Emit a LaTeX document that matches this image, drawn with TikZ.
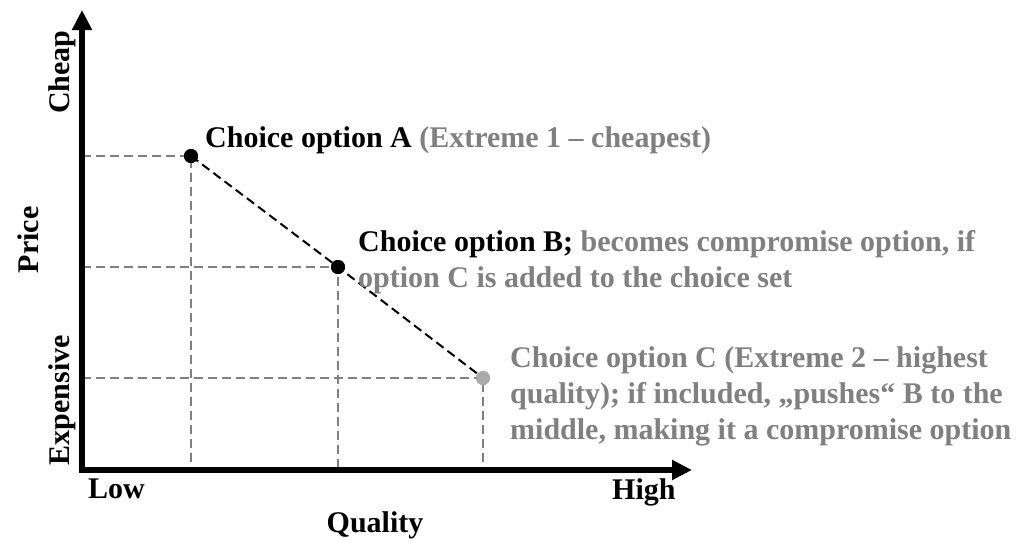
\documentclass[tikz,border=0pt]{standalone}
\usepackage{fontspec}
\setmainfont{Liberation Serif}
\usetikzlibrary{arrows.meta,calc,positioning}
\definecolor{txtgray}{RGB}{128,128,128}
\definecolor{ptgray}{RGB}{170,170,170}

\begin{document}
\begin{tikzpicture}[x=1pt,y=-1pt,
  font=\fontsize{30}{36}\selectfont\bfseries,
  axis/.style={line width=5.5pt,-{Triangle[length=20pt,width=19pt]}},
  guide/.style={draw=txtgray,line width=2pt,dash pattern=on 9pt off 5pt},
  trade/.style={draw=black,line width=2pt,dash pattern=on 9pt off 5pt},
  choice/.style={circle,fill,inner sep=0pt,minimum size=14pt},
  lbl/.style={anchor=base west,inner sep=0pt,align=left}]
  \useasboundingbox (0,0) rectangle (1022,541);
  \coordinate (o) at (82,470);
  \coordinate (ytop) at (82,10);
  \coordinate (xend) at (692,470);
  \node[choice]        (A) at (191,156) {};
  \node[choice]        (B) at (338,267) {};
  \node[choice,ptgray] (C) at (483,378) {};
  % projections onto the axes
  \foreach \p in {A,B,C}
    \draw[guide] (\p -| o) -- (\p.center) -- (\p |- o);
  \draw[trade] (A.center) -- (B.center) -- (C.center);
  \foreach \p in {A,B}
    \node[choice] at (\p) {};
  \node[choice,ptgray] at (C) {};
  % axes
  \draw[axis] ($(o)+(0,2.75)$) -- (ytop);
  \draw[axis] ($(o)+(-2.75,0)$) -- (xend);
  \node[rotate=90] (cheap) at (62,72)  {Cheap};
  \node[rotate=90] (price) at (28,240) {Price};
  \node[rotate=90] (expensive) at (62,400) {Expensive};
  \node[lbl] (low)  at (88,498)  {Low};
  \node[lbl] (high) at (612,499) {High};
  \node[anchor=base] (quality) at (375,532) {Quality};
  % labels of the choice options (base = last line)
  \node[lbl] (labA) at (205,147)
    {Choice option A \textcolor{txtgray}{(Extreme 1 – cheapest)}};
  \node[lbl] (labB) at (358,287)
    {Choice option B; \textcolor{txtgray}{becomes compromise option, if}\\
     \textcolor{txtgray}{option C is added to the choice set}};
  \node[lbl,txtgray] (labC) at (510,439)
    {Choice option C (Extreme 2 – highest\\
     quality); if included, „pushes“ B to the\\
     middle, making it a compromise option};
\end{tikzpicture}
\end{document}
